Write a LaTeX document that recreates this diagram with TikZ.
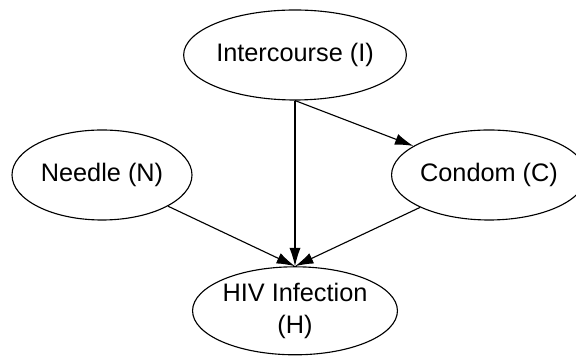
\documentclass[tikz,border=0pt]{standalone}
\usepackage{fontspec}
\setmainfont{Liberation Sans}
\usetikzlibrary{shapes.geometric,arrows.meta}
\tikzset{
  var/.style={ellipse, draw, line width=0.8pt, inner sep=0pt,
    minimum width=4.5cm, minimum height=2.25cm, align=center,
    font=\fontsize{18}{23}\selectfont},
  link/.style={line width=0.8pt, -{Latex[length=4.6mm,width=2.8mm]}}
}
\begin{document}
\begin{tikzpicture}
        \useasboundingbox (0,0) rectangle (14.4,8.9);
        % variables
        \node[var] (I) at (7.375, 7.525) {Intercourse (I)};
        \node[var] (N) at (2.55, 4.525) {Needle (N)};
        \node[var, minimum width=4.3cm] (C) at (12.225, 4.525) {Condom (C)};
        \node[var, minimum width=4.6cm, minimum height=2.2cm] (H) at (7.375, 1.13) {HIV Infection\\(H)};
        % dependencies
        \draw[link] (I) -- (H);
        \draw[link] (I.south) -- (C);
        \draw[link] (N) -- (H.north);
        \draw[link] (C) -- (H.north);
    \end{tikzpicture}
\end{document}
